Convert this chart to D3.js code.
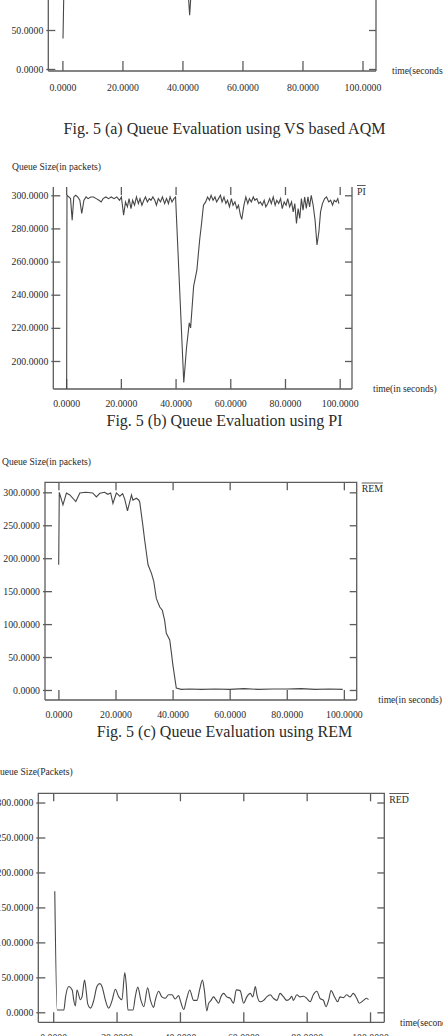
<!DOCTYPE html>
<meta charset="utf-8">
<style>
body { margin: 0; background: #fff; }
svg { display: block; }
text { font-family: "Liberation Serif", "Times New Roman", serif; fill: #2a2a2a; }
.axis line, .frame { fill: none; stroke: #5c5c5c; stroke-width: 1.3; }
.axis text { font-size: 9.8px; fill: #2a2a2a; }
.series { fill: none; stroke: #474747; stroke-width: 1.1; }
.caption { font-size: 16px; text-anchor: middle; }
.lbl { font-size: 9.6px; }
.legend { font-size: 9.8px; }
</style>
<svg id="fig" width="443" height="1036"></svg>
<script src="https://d3js.org/d3.v7.min.js"></script>
<script>

// time axis, shared by all four panels
var xTicks = [0, 20, 40, 60, 80, 100];

// (a) VS based AQM - only the lowest part of this panel is on the page
var vsTime  = [0.2, 0.5, 2, 4, 7, 10, 13, 16, 19, 22, 25, 28, 31, 34, 37, 40, 41.8, 42.4, 43.0, 46, 50, 55, 60, 65, 70, 75, 80, 85, 90, 95, 100];
var vsQueue = [39, 104, 101, 106, 99, 103, 108, 100, 104, 98, 105, 101, 107, 99, 103, 106, 105, 69, 105, 100, 104, 98, 106, 101, 103, 99, 107, 102, 100, 105, 101];
var vsTicks = [0, 50, 100, 150, 200, 250, 300];

// (b) PI
var piTime = [0, 0.3, 1, 1.6, 2.2, 2.8, 3.5, 4.2, 5, 5.7,
  6.5, 7.3, 8, 9, 10, 11, 12, 12.8, 13.5, 14.5,
  15.5, 16.5, 17.5, 18.5, 19.5, 20.2, 21, 21.7, 22.4, 23,
  23.7, 24.3, 25, 25.7, 26.4, 27, 27.7, 28.4, 29, 29.7,
  30.4, 31, 31.7, 32.4, 33, 33.7, 34.5, 35.2, 36, 36.7,
  37.4, 38, 38.7, 39.4, 40, 43, 44, 45, 45.5, 46.6,
  47.8, 48.8, 49.5, 50.2, 51, 51.7, 52.4, 53, 53.7, 54.4,
  55, 55.7, 56.4, 57, 57.7, 58.4, 59, 59.7, 60.4, 61,
  61.7, 62.4, 63, 63.7, 64.2, 65, 65.7, 66.4, 67, 67.7,
  68.4, 69, 69.7, 70.4, 71, 71.7, 72.4, 73, 73.7, 74.4,
  75, 75.7, 76.4, 77, 77.7, 78.4, 79, 79.7, 80.4, 81,
  81.7, 82.4, 83, 83.6, 84.2, 84.8, 85.4, 86, 86.6, 87.2,
  87.8, 88.4, 89, 89.6, 90.3, 91, 91.7, 92.4, 93, 93.7,
  94.5, 95.2, 96, 96.7, 97.4, 98, 98.7, 99.3, 99.7];
var piQueue = [0, 300, 299, 298, 285, 299, 300, 299, 297, 289,
  297, 299, 298, 299, 299, 298, 297, 296, 298, 299,
  298, 299, 298, 299, 297, 299, 288, 296, 293, 298,
  292, 297, 294, 299, 295, 298, 294, 297, 299, 296,
  298, 297, 299, 297, 294, 298, 296, 299, 295, 298,
  295, 299, 296, 298, 299, 187, 208, 223, 220, 245,
  255, 273, 283, 294, 296, 299, 297, 300, 297, 299,
  296, 298, 300, 296, 299, 295, 297, 293, 298, 294,
  296, 292, 294, 288, 285.5, 294, 299, 295, 298, 296,
  299, 297, 298, 295, 296, 294, 297, 293, 295, 298,
  295, 299, 294, 297, 295, 298, 292, 296, 294, 298,
  293, 296, 290, 295, 283, 292, 286, 298, 291, 299,
  292, 299, 293, 300, 294, 285, 270, 278, 290, 295,
  298, 299, 296, 297, 294, 297, 296, 298, 295];
var piTicks = [200, 220, 240, 260, 280, 300];

// (c) REM
var remTime = [0.1, 0.3, 1.6, 2.8, 4, 6.1, 7.5, 9.6, 12, 13.3,
  14.5, 16.2, 17.3, 18.3, 19.1, 20.3, 21.5, 22.5, 23.2, 24.2,
  25.6, 26.1, 27.3, 28.2, 28.5, 29.6, 30.2, 31.4, 32.6, 33.4,
  34.3, 35.5, 36.4, 37.2, 37.8, 39, 39.6, 40.1, 41.3, 43,
  46, 50, 55, 60, 65, 70, 75, 80, 85, 90, 95, 99.6];
var remQueue = [190, 300, 281, 299, 296, 286, 299, 300, 299, 293,
  298.5, 300, 297, 299, 283, 299, 294, 298, 290, 272,
  296, 288, 291, 288, 285, 249, 228, 190, 177, 165,
  139, 126, 121, 106, 86, 76, 56, 38, 3, 1,
  1.5, 1, 1.5, 1, 2, 1, 1.5, 1.5, 2, 1, 1.5, 1];
var remTicks = [0, 50, 100, 150, 200, 250, 300];

// (d) RED
var redTime = [0.5, 1.25, 3.35, 3.9, 4.9, 6.0, 6.5, 7.0, 7.5, 8.6,
  9.1, 9.9, 10.5, 10.9, 11.8, 12.8, 13.8, 14.7, 15.4, 16.5,
  17.5, 18.6, 19.6, 20.7, 21.7, 22.6, 23.1, 23.6, 25.2, 25.9,
  26.7, 27.7, 28.6, 29.8, 30.7, 31.7, 32.2, 33.3, 34.3, 35.4,
  36.4, 37.5, 38.5, 39.6, 40.1, 41.2, 42.0, 43.1, 44.3, 45.4,
  46.2, 47.1, 47.7, 48.5, 49.0, 49.8, 50.6, 51.5, 52.2, 52.9,
  53.8, 54.8, 55.9, 56.9, 57.8, 59.0, 60.1, 61.1, 62.2, 63.0,
  63.8, 64.3, 65.3, 66.4, 67.4, 68.5, 69.5, 70.6, 71.6, 72.7,
  73.7, 74.8, 75.3, 75.8, 76.9, 77.9, 79.0, 80.0, 81.1, 82.1,
  83.2, 84.2, 85.3, 86.1, 86.9, 87.7, 88.8, 89.8, 90.5, 91.6,
  92.6, 93.7, 94.7, 95.8, 96.6, 97.9, 98.9, 99.5];
var redQueue = [173, 3.3, 3.3, 22, 37, 32, 17, 9, 32, 18,
  22, 46, 27, 12, 6, 17, 37, 41, 37, 17,
  6, 17, 33, 22, 18, 57, 37, 3.3, 3.3, 22,
  36, 17, 8, 35, 17, 7, 17, 30, 22, 20,
  25, 25, 19, 24, 17, 4, 17, 32, 17, 17,
  32, 46, 32, 2, 12, 17, 22, 17, 13, 22,
  27, 22, 20, 13, 32, 31, 13, 22, 27, 22,
  37, 25, 15, 17, 22, 25, 20, 17, 27, 22,
  17, 20, 23, 17, 25, 22, 23, 20, 15, 25,
  30, 20, 17, 8, 17, 31, 22, 15, 22, 21,
  25, 22, 27, 20, 13, 17, 20, 18];
var redTicks = [0, 50, 100, 150, 200, 250, 300];

var xDomain = [-4.7, 104.5];
var fmt = d3.format(".4f");

// layout of each panel on the page
var panels = [
  {id: "a", time: vsTime, queue: vsQueue, yTicks: vsTicks, yDomain: [-2.6, 313],
   left: 48.3, right: 376, top: -175, bottom: 71, topLine: true, xpad: 13.5,
   xlab: "time(seconds)", xlabX: 392, ylab: null, legend: null,
   caption: "Fig. 5 (a) Queue Evaluation using VS based AQM", capY: 128},
  {id: "b", time: piTime, queue: piQueue, yTicks: piTicks, yDomain: [183.1, 305],
   left: 53.3, right: 352, top: 187, bottom: 389, topLine: false, xpad: 11.5,
   xlab: "time(in seconds)", xlabX: 373, ylab: "Queue Size(in packets)", ylabX: 12, ylabY: 167,
   legend: "PI", legY: 194.5,
   caption: "Fig. 5 (b) Queue Evaluation using PI", capY: 420},
  {id: "c", time: remTime, queue: remQueue, yTicks: remTicks, yDomain: [-15.2, 315.2],
   left: 45, right: 356.7, top: 482.3, bottom: 700, topLine: true, xpad: 11.5,
   xlab: "time(in seconds)", xlabX: 378.3, ylab: "Queue Size(in packets)", ylabX: 2, ylabY: 461.7,
   legend: "REM", legY: 492,
   caption: "Fig. 5 (c) Queue Evaluation using REM", capY: 731.7},
  {id: "d", time: redTime, queue: redQueue, yTicks: redTicks, yDomain: [-14.3, 313.2],
   left: 38.3, right: 384.3, top: 793.3, bottom: 1022.3, topLine: true, xpad: 11.5, smooth: true,
   xlab: "time(seconds)", xlabX: 400, ylab: "Queue Size(Packets)", ylabX: -7, ylabY: 771.7,
   legend: "RED", legY: 802.5,
   caption: "Fig. 5 (d) Queue Evaluation using RED", capY: 1070}
];

var svg = d3.select("#fig");

panels.forEach(function (p) {
  var x = d3.scaleLinear().domain(xDomain).range([p.left, p.right]);
  var y = d3.scaleLinear().domain(p.yDomain).range([p.bottom, p.top]);
  var g = svg.append("g").attr("class", "panel-" + p.id);

  g.append("clipPath").attr("id", "clip-" + p.id)
    .append("rect")
      .attr("x", p.left).attr("y", p.top)
      .attr("width", p.right - p.left).attr("height", p.bottom - p.top);

  // bottom ticks point up into the plot
  var bx = g.append("g").attr("class", "axis")
      .attr("transform", "translate(0," + p.bottom + ")")
      .call(d3.axisBottom(x).tickValues(xTicks).tickSize(-10).tickPadding(p.xpad).tickFormat(fmt));
  bx.select(".domain").remove();

  var tx = g.append("g").attr("class", "axis")
      .attr("transform", "translate(0," + p.top + ")")
      .call(d3.axisTop(x).tickValues(xTicks).tickSize(-8).tickFormat(""));
  tx.select(".domain").remove();

  var ly = g.append("g").attr("class", "axis")
      .attr("transform", "translate(" + p.left + ",0)")
      .call(d3.axisLeft(y).tickValues(p.yTicks).tickSize(-7).tickPadding(5).tickFormat(fmt));
  ly.select(".domain").remove();
  ly.selectAll(".tick line").attr("x1", -2);

  var ry = g.append("g").attr("class", "axis")
      .attr("transform", "translate(" + p.right + ",0)")
      .call(d3.axisRight(y).tickValues(p.yTicks).tickSize(-7).tickFormat(""));
  ry.select(".domain").remove();

  var fr = d3.path();
  if (p.topLine) {
    fr.moveTo(p.left, p.bottom); fr.lineTo(p.left, p.top);
    fr.lineTo(p.right, p.top); fr.lineTo(p.right, p.bottom);
  } else {
    fr.moveTo(p.left, p.top); fr.lineTo(p.left, p.bottom);
    fr.moveTo(p.right, p.top); fr.lineTo(p.right, p.bottom);
  }
  fr.moveTo(p.left, p.bottom); fr.lineTo(p.right, p.bottom);
  g.append("path").attr("class", "frame").attr("d", fr.toString());

  var line = d3.line()
      .x(function (d) { return x(d[0]); })
      .y(function (d) { return y(d[1]); })
      .curve(p.smooth ? d3.curveMonotoneX : d3.curveLinear);

  g.append("path")
      .datum(d3.zip(p.time, p.queue))
      .attr("class", "series")
      .attr("clip-path", "url(#clip-" + p.id + ")")
      .attr("d", line);

  g.append("text").attr("class", "lbl")
      .attr("x", p.xlabX).attr("y", p.bottom).attr("dy", "0.35em")
      .text(p.xlab);

  if (p.ylab) {
    g.append("text").attr("class", "lbl")
        .attr("x", p.ylabX).attr("y", p.ylabY).attr("dy", "0.35em")
        .text(p.ylab);
  }

  if (p.legend) {
    var lt = g.append("text").attr("class", "legend")
        .attr("x", p.right + 5).attr("y", p.legY)
        .text(p.legend);
    var w = lt.node().getComputedTextLength();
    g.append("line").attr("class", "frame")
        .style("stroke-width", 1)
        .attr("x1", p.right + 5).attr("x2", p.right + 5 + w)
        .attr("y1", p.legY - 9).attr("y2", p.legY - 9);
  }

  g.append("text").attr("class", "caption")
      .attr("x", 224.5).attr("y", p.capY).attr("dy", "0.35em")
      .text(p.caption);
});

</script>
